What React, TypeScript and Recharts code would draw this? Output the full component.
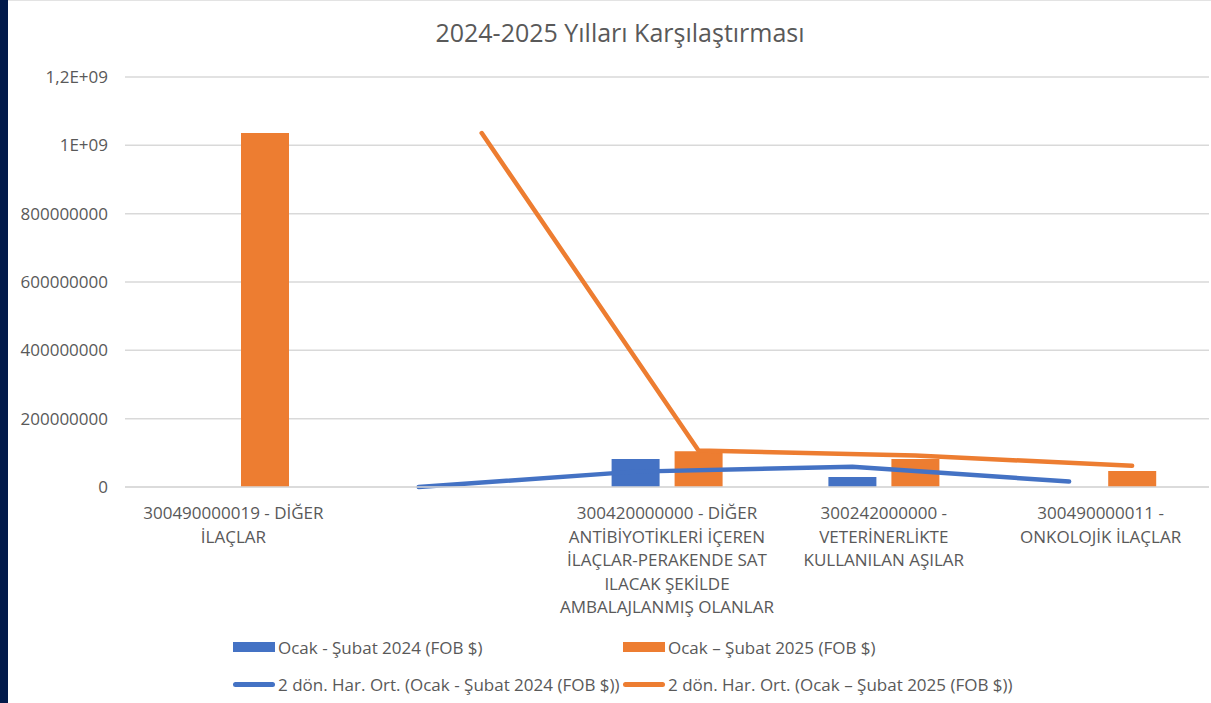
import { ComposedChart, Bar, Line, XAxis, YAxis, CartesianGrid, Legend } from "recharts";

const categories = [
  "300490000019 - DİĞER\nİLAÇLAR",
  "",
  "300420000000 - DİĞER\nANTİBİYOTİKLERİ İÇEREN\nİLAÇLAR-PERAKENDE SAT\nILACAK ŞEKİLDE\nAMBALAJLANMIŞ OLANLAR",
  "300242000000 -\nVETERİNERLİKTE\nKULLANILAN AŞILAR",
  "300490000011 -\nONKOLOJİK İLAÇLAR",
];
const fob2024 = [0, null, 82000000, 29000000, 0];
const fob2025 = [1036000000, null, 105000000, 82000000, 47000000];
const ma2024 = [null, 0, 45000000, 59000000, 16000000];
const ma2025 = [null, 1036000000, 107000000, 92000000, 62000000];

const yTicks = [0, 200000000, 400000000, 600000000, 800000000, 1000000000, 1200000000];
const yTickLabels = ["0", "200000000", "400000000", "600000000", "800000000", "1E+09", "1,2E+09"];

const seriesNames = [
  "Ocak - Şubat 2024 (FOB $)",
  "Ocak – Şubat 2025 (FOB $)",
  "2 dön. Har. Ort. (Ocak - Şubat 2024 (FOB $))",
  "2 dön. Har. Ort. (Ocak – Şubat 2025 (FOB $))",
];

const BLUE = "#4472C4";
const ORANGE = "#ED7D31";
const TEXT = "#595959";
const GRID = "#D9D9D9";
const FONT = "'Open Sans', sans-serif";

const data = categories.map((name, i) => ({
  idx: i,
  name,
  v24: fob2024[i],
  v25: fob2025[i],
  ma24: ma2024[i],
  ma25: ma2025[i],
}));

// trendline points sit on the bar centres, not the category centre
const BAR = 48;
const GAP = 15;
const shift = (BAR + GAP) / 2 / (1084 / categories.length);

function CategoryTick(props: any) {
  const { x, y, payload } = props;
  const lines = String(payload.value).split("\n");
  return (
    <text x={x} y={y} textAnchor="middle" fill={TEXT} fontSize={17} fontFamily={FONT}>
      {lines.map((l, i) => (
        <tspan key={i} x={x} dy={i === 0 ? 30 : 23.5}>
          {l}
        </tspan>
      ))}
    </text>
  );
}

function ChartLegend() {
  const items = [
    { name: seriesNames[0], color: BLUE, kind: "bar" },
    { name: seriesNames[1], color: ORANGE, kind: "bar" },
    { name: seriesNames[2], color: BLUE, kind: "line" },
    { name: seriesNames[3], color: ORANGE, kind: "line" },
  ];
  return (
    <div style={{ position: "relative", height: 72, width: 1211 }}>
      {items.map((it, i) => (
        <div
          key={i}
          style={{
            position: "absolute",
            left: i % 2 === 0 ? 233 : 623,
            top: i < 2 ? 0 : 37,
            height: 34,
            display: "flex",
            alignItems: "center",
            fontFamily: FONT,
            fontSize: 17,
            color: TEXT,
            whiteSpace: "nowrap",
          }}
        >
          {it.kind === "bar" ? (
            <span style={{ display: "inline-block", width: 42, height: 10, background: it.color, marginRight: 3 }} />
          ) : (
            <span
              style={{ display: "inline-block", width: 42, height: 5, borderRadius: 3, background: it.color, marginRight: 3 }}
            />
          )}
          {it.name}
        </div>
      ))}
    </div>
  );
}

export default function App() {
  return (
    <div style={{ position: "fixed", left: 0, top: 0, width: 1211, height: 703, background: "#fff" }}>
      <div style={{ position: "absolute", left: 8, top: 0, width: 1203, height: 1, background: "#E3E3E3" }} />
      <div
        style={{
          position: "absolute",
          left: 0,
          width: 1240,
          top: 20,
          textAlign: "center",
          fontFamily: FONT,
          fontSize: 25,
          lineHeight: "25px",
          color: TEXT,
        }}
      >
        2024-2025 Yılları Karşılaştırması
      </div>
      <ComposedChart
        width={1211}
        height={703}
        data={data}
        margin={{ top: 77, right: 2, left: 0, bottom: 14 }}
        barSize={BAR}
        barGap={GAP}
      >
        <CartesianGrid vertical={false} stroke={GRID} strokeWidth={1.5} />
        <XAxis
          dataKey="name"
          interval={0}
          height={130}
          axisLine={{ stroke: GRID, strokeWidth: 1.5 }}
          tickLine={false}
          tickSize={0}
          tick={<CategoryTick />}
        />
        <XAxis
          xAxisId="l24"
          dataKey="idx"
          type="number"
          domain={[-0.5 + shift, categories.length - 0.5 + shift]}
          allowDataOverflow
          hide
        />
        <XAxis
          xAxisId="l25"
          dataKey="idx"
          type="number"
          domain={[-0.5 - shift, categories.length - 0.5 - shift]}
          allowDataOverflow
          hide
        />
        <YAxis
          width={125}
          domain={[0, 1200000000]}
          ticks={yTicks}
          interval={0}
          axisLine={false}
          tickLine={false}
          tickSize={0}
          tickMargin={17}
          tickFormatter={(v: number) => yTickLabels[yTicks.indexOf(v)] ?? String(v)}
          tick={{ fill: TEXT, fontSize: 17, fontFamily: FONT }}
        />
        <Bar dataKey="v24" name={seriesNames[0]} fill={BLUE} isAnimationActive={false} />
        <Bar dataKey="v25" name={seriesNames[1]} fill={ORANGE} isAnimationActive={false} />
        <Line
          xAxisId="l24"
          dataKey="ma24"
          name={seriesNames[2]}
          stroke={BLUE}
          strokeWidth={4.5}
          strokeLinecap="round"
          strokeLinejoin="round"
          dot={false}
          activeDot={false}
          type="linear"
          isAnimationActive={false}
        />
        <Line
          xAxisId="l25"
          dataKey="ma25"
          name={seriesNames[3]}
          stroke={ORANGE}
          strokeWidth={4.5}
          strokeLinecap="round"
          strokeLinejoin="round"
          dot={false}
          activeDot={false}
          type="linear"
          isAnimationActive={false}
        />
        <Legend
          verticalAlign="bottom"
          content={<ChartLegend />}
          wrapperStyle={{ top: 630, left: 0, bottom: "auto", width: 1211 }}
        />
      </ComposedChart>
      <div style={{ position: "absolute", left: 0, top: 0, width: 8, height: 703, background: "#021A4A" }} />
    </div>
  );
}
